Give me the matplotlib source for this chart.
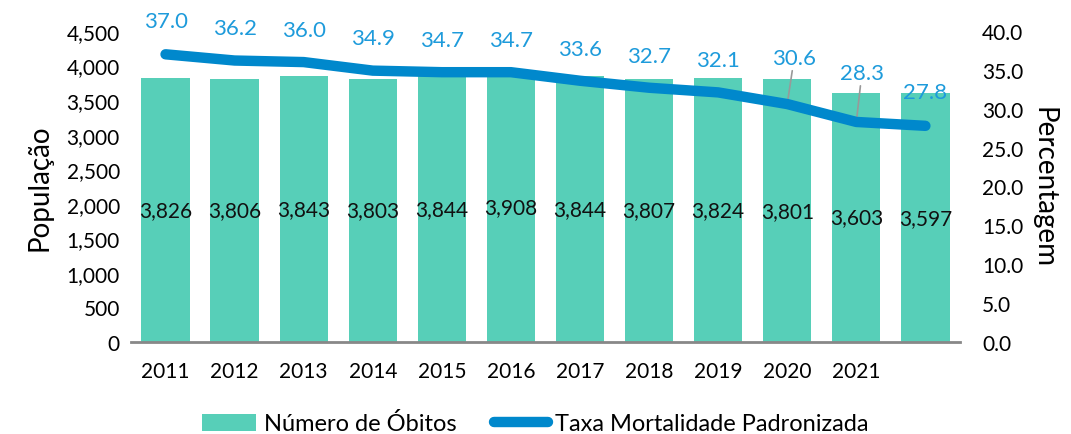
import numpy as np
import matplotlib.pyplot as plt

plt.rcParams['font.family'] = ['Lato', 'DejaVu Sans']

anos = ['2011', '2012', '2013', '2014', '2015', '2016', '2017', '2018', '2019', '2020', '2021', '']
obitos = [3826, 3806, 3843, 3803, 3844, 3908, 3844, 3807, 3824, 3801, 3603, 3597]
taxa = [37.0, 36.2, 36.0, 34.9, 34.7, 34.7, 33.6, 32.7, 32.1, 30.6, 28.3, 27.8]

cor_barra = '#57CFB8'
cor_linha = '#0088CC'
cor_rotulo = '#1E9BDB'

fig = plt.figure(figsize=(10.71, 4.35), dpi=100)
ax = fig.add_axes([0.1223, 0.2115, 0.7740, 0.7150])
ax2 = ax.twinx()

x = np.arange(len(anos))
barras = ax.bar(x, obitos, width=0.7, color=cor_barra, label='Número de Óbitos', zorder=2)
ax.set_xlim(-0.5, len(anos) - 0.5)
ax.set_ylim(0, 4500)
ax.set_yticks(np.arange(0, 4501, 500))
ax.set_yticklabels([f'{v:,}' for v in range(0, 4501, 500)])
ax.set_xticks(x)
ax.set_xticklabels(anos)
ax.tick_params(length=0, labelsize=15, pad=14)
ax.tick_params(axis='y', pad=8)
for s in ['top', 'right', 'left']:
    ax.spines[s].set_visible(False)
ax.spines['bottom'].set_color('#888888')
ax.spines['bottom'].set_linewidth(2)
ax.set_ylabel('População', fontsize=20, labelpad=10)

for xi, v in zip(x, obitos):
    ax.text(xi, v / 2, f'{v:,}', ha='center', va='center', fontsize=15, color='#111111', zorder=3)

ax2.plot(x, taxa, color=cor_linha, lw=7.5, solid_capstyle='round', solid_joinstyle='round',
         label='Taxa Mortalidade Padronizada', zorder=4)
ax2.set_ylim(0, 40)
ax2.set_yticks(np.arange(0, 40.1, 5))
ax2.set_yticklabels([f'{v:.1f}' for v in np.arange(0, 40.1, 5)])
ax2.tick_params(length=0, labelsize=15, pad=16)
for s in ['top', 'right', 'left', 'bottom']:
    ax2.spines[s].set_visible(False)
ax2.set_ylabel('Percentagem', fontsize=20, rotation=-90, labelpad=24)

# offsets dos rotulos (em pontos)
desloc = [(0, 17), (0, 16), (0, 16), (0, 16), (0, 16), (0, 16), (0, 16), (0, 16), (0, 16),
          (5, 26), (4, 28), (0, 17)]
for i, (xi, v) in enumerate(zip(x, taxa)):
    dx, dy = desloc[i]
    if dy > 24:
        ax2.annotate(f'{v:.1f}', (xi, v), xytext=(dx, dy), textcoords='offset points',
                     ha='center', va='bottom', fontsize=16, color=cor_rotulo,
                     arrowprops=dict(arrowstyle='-', color='#999999', lw=1.2, shrinkA=0, shrinkB=0))
    else:
        ax2.annotate(f'{v:.1f}', (xi, v), xytext=(dx, dy), textcoords='offset points',
                     ha='center', va='bottom', fontsize=16, color=cor_rotulo)

h1, l1 = ax.get_legend_handles_labels()
h2, l2 = ax2.get_legend_handles_labels()
fig.legend(h1 + h2, l1 + l2, loc='lower center', bbox_to_anchor=(0.5, -0.05), ncol=2,
           frameon=False, fontsize=17, handlelength=2.3, columnspacing=1.6, handletextpad=0.3)

fig.savefig('out.png', dpi=100)
